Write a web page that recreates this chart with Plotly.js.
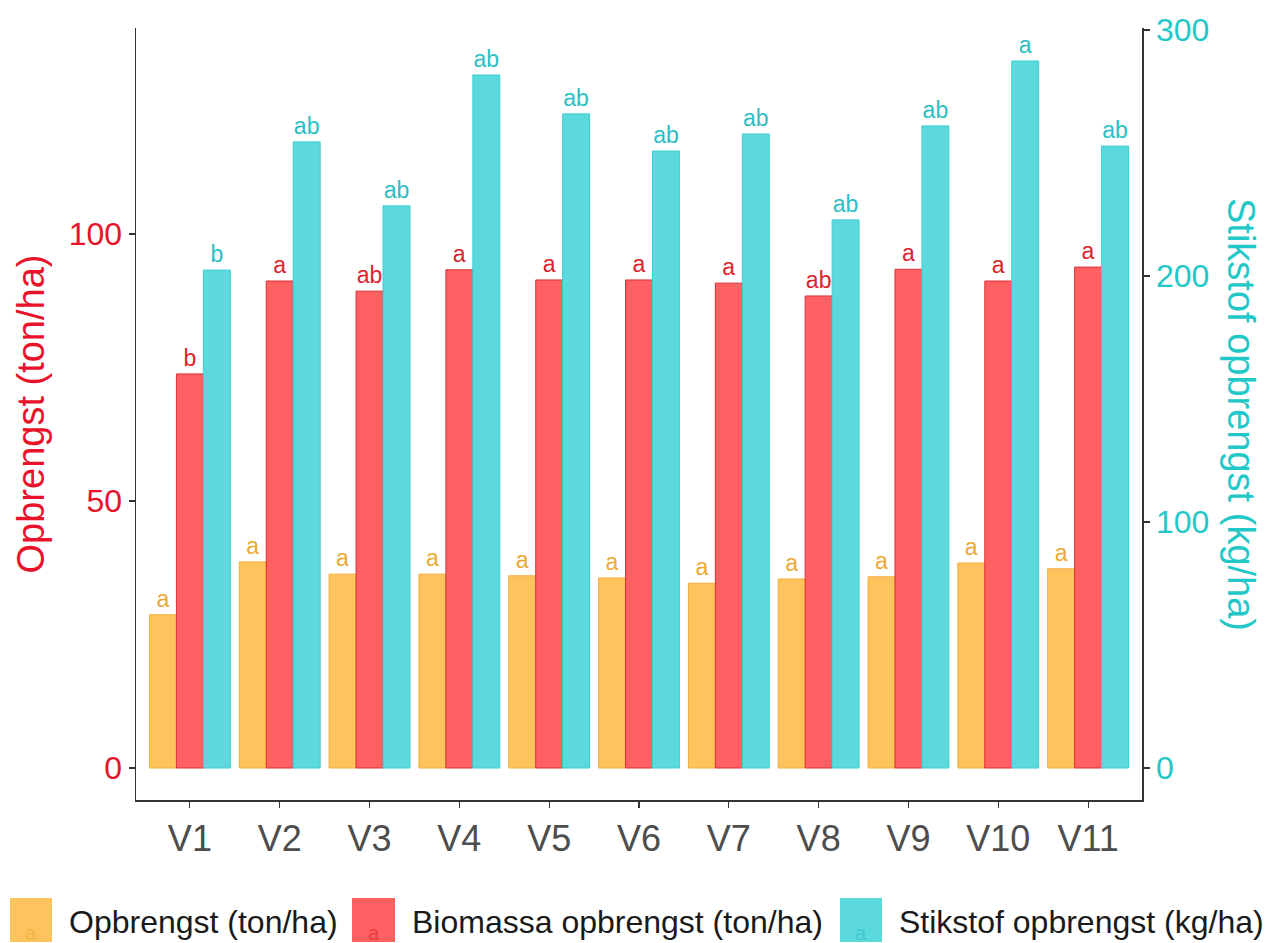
<!DOCTYPE html>
<html>
<head>
<meta charset="utf-8">
<script src="https://cdn.plot.ly/plotly-3.0.1.min.js"></script>
<style>html,body{margin:0;padding:0;background:#fff;}#chart{width:1269px;height:943px;}</style>
</head>
<body>
<div id="chart"></div>
<script>
const categories = ["V1","V2","V3","V4","V5","V6","V7","V8","V9","V10","V11"];
const opbrengst = [28.7, 38.6, 36.3, 36.3, 36.0, 35.6, 34.6, 35.4, 35.8, 38.4, 37.3];
const biomassa = [73.8, 91.2, 89.3, 93.3, 91.4, 91.4, 90.8, 88.4, 93.4, 91.2, 93.8];
const stikstof = [202.4, 254.5, 228.5, 281.7, 265.9, 250.8, 257.7, 222.8, 261.0, 287.4, 252.8];
const opbrengstLetters = ["a","a","a","a","a","a","a","a","a","a","a"];
const biomassaLetters = ["b","a","ab","a","a","a","a","ab","a","a","a"];
const stikstofLetters = ["b","ab","ab","ab","ab","ab","ab","ab","ab","a","ab"];
const leftTicks = [0, 50, 100];
const rightTicks = [0, 100, 200, 300];
const seriesNames = ["Opbrengst (ton/ha)", "Biomassa opbrengst (ton/ha)", "Stikstof opbrengst (kg/ha)"];

const FONT = "Liberation Sans, Arial, sans-serif";
const fills = ["#FDC45E", "#FF6163", "#5CD9DD"];
const borders = ["#F2AE3C", "#D93035", "#3CCFD2"];
const textCols = ["#EBAA38", "#D9252C", "#2DBEC4"];

function barTrace(vals, letters, i, yaxis) {
  return {
    type: "bar", x: categories, y: vals, name: seriesNames[i],
    yaxis: yaxis, offsetgroup: String(i + 1),
    marker: {color: fills[i], line: {color: borders[i], width: 1}},
    text: letters, textposition: "outside", cliponaxis: false,
    constraintext: "none",
    textfont: {family: FONT, size: 23, color: textCols[i]},
    showlegend: false, hoverinfo: "x+y"
  };
}

const data = [
  barTrace(opbrengst, opbrengstLetters, 0, "y"),
  barTrace(biomassa, biomassaLetters, 1, "y"),
  barTrace(stikstof, stikstofLetters, 2, "y2")
];

// custom legend (keys + labels) in paper coordinates
const L = 136, R = 1142, T = 28, B = 800;
const px = v => (v - L) / (R - L);
const py = v => (B - v) / (B - T);
const keys = [[10, 52, 67], [352, 395, 410], [840, 882, 897]];
const shapes = keys.map((k, i) => ({
  type: "rect", xref: "paper", yref: "paper",
  x0: px(k[0]), x1: px(k[1]), y0: py(942), y1: py(898),
  fillcolor: fills[i], line: {width: 0}
}));
const annotations = [];
keys.forEach((k, i) => {
  annotations.push({
    xref: "paper", yref: "paper", x: px(k[2]), y: py(922),
    xanchor: "left", yanchor: "middle", showarrow: false,
    text: seriesNames[i], font: {family: FONT, size: 32, color: "#1A1A1A"}
  });
  annotations.push({
    xref: "paper", yref: "paper", x: px((k[0] + k[1]) / 2), y: py(933),
    xanchor: "center", yanchor: "middle", showarrow: false,
    text: "a", font: {family: FONT, size: 20, color: textCols[i]}, opacity: 0.6
  });
});
annotations.push({
  xref: "paper", yref: "paper", x: px(1241), y: 0.5,
  xanchor: "center", yanchor: "middle", showarrow: false, textangle: 90,
  text: "Stikstof opbrengst (kg/ha)", font: {family: FONT, size: 38, color: "#22C8C8"}
});

const layout = {
  width: 1269, height: 943,
  margin: {l: L, r: 1269 - R, t: T, b: 943 - B, pad: 0},
  paper_bgcolor: "#FFFFFF", plot_bgcolor: "#FFFFFF",
  font: {family: FONT},
  barmode: "group", bargap: 0.1, bargroupgap: 0,
  xaxis: {
    type: "category", range: [-0.6, 10.6], showgrid: false, zeroline: false,
    showline: true, linecolor: "#333333", linewidth: 1.5,
    ticks: "outside", ticklen: 6, tickcolor: "#333333", tickwidth: 1.2,
    tickfont: {family: FONT, size: 36, color: "#4D4D4D"}
  },
  yaxis: {
    range: [-5.99, 138.58], tickvals: leftTicks, showgrid: false, zeroline: false,
    showline: true, linecolor: "#333333", linewidth: 1.5,
    ticks: "outside", ticklen: 6, tickcolor: "#333333", tickwidth: 1.2,
    tickfont: {family: FONT, size: 32, color: "#E8132B"},
    title: {text: "Opbrengst (ton/ha)", font: {family: FONT, size: 38, color: "#E8132B"}, standoff: 12}
  },
  yaxis2: {
    overlaying: "y", side: "right",
    range: [-13.0, 300.8], tickvals: rightTicks, showgrid: false, zeroline: false,
    showline: true, linecolor: "#333333", linewidth: 1.5,
    ticks: "outside", ticklen: 6, tickcolor: "#333333", tickwidth: 1.2,
    tickfont: {family: FONT, size: 32, color: "#22C8C8"}
  },
  shapes: shapes,
  annotations: annotations,
  showlegend: false
};

Plotly.newPlot("chart", data, layout, {displayModeBar: false, staticPlot: true});
</script>
</body>
</html>
